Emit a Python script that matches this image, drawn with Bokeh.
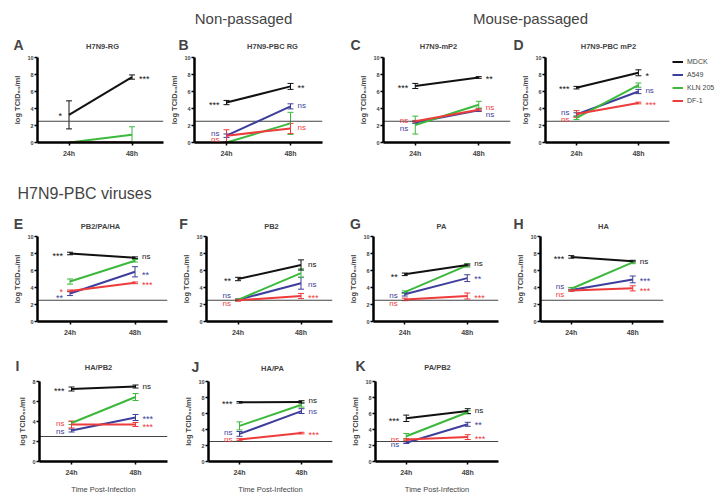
from bokeh.plotting import figure
from bokeh.models import (Range1d, FixedTicker, Label, Whisker, ColumnDataSource,
                          Legend, LegendItem, TeeHead)
from bokeh.layouts import column, row
from bokeh.embed import file_html
from bokeh.resources import INLINE

FONT = "Liberation Sans"

# ---------------- data ----------------
panel_ids = ["A", "B", "C", "D", "E", "F", "G", "H", "I", "J", "K"]
panel_titles = ["H7N9-RG", "H7N9-PBC RG", "H7N9-mP2", "H7N9-PBC mP2",
                "PB2/PA/HA", "PB2", "PA", "HA", "HA/PB2", "HA/PA", "PA/PB2"]
y_max = [10, 10, 10, 10, 10, 10, 10, 10, 8, 10, 10]
time_labels = ["24h", "48h"]
cells = ["MDCK", "A549", "KLN 205", "DF-1"]
detection_limit = 2.5
group_titles = ["Non-passaged", "Mouse-passaged", "H7N9-PBC viruses"]

mdck_24h = [3.25, 4.7, 6.65, 6.45, 8.0, 5.0, 5.55, 7.6, 7.25, 7.4, 5.4]
mdck_48h = [7.7, 6.6, 7.65, 8.2, 7.5, 6.65, 6.65, 7.1, 7.5, 7.45, 6.3]
mdck_err_24h = [1.65, 0.25, 0.3, 0.15, 0.15, 0.2, 0.15, 0.15, 0.2, 0.1, 0.4]
mdck_err_48h = [0.25, 0.35, 0.1, 0.35, 0.1, 0.6, 0.1, 0.1, 0.15, 0.15, 0.3]

a549_24h = [0.0, 0.8, 2.35, 3.3, 3.3, 2.55, 3.2, 3.7, 3.1, 3.45, 2.35]
a549_48h = [0.0, 4.25, 3.8, 6.0, 5.85, 4.5, 5.1, 4.95, 4.4, 6.3, 4.65]
a549_err_24h = [0.0, 0.2, 0.1, 0.2, 0.25, 0.1, 0.2, 0.1, 0.15, 0.3, 0.1]
a549_err_48h = [0.0, 0.3, 0.15, 0.25, 0.6, 0.7, 0.4, 0.4, 0.3, 0.3, 0.25]

kln_24h = [0.0, 0.0, 2.05, 2.9, 4.7, 2.55, 3.45, 3.85, 3.85, 4.45, 3.15]
kln_48h = [0.9, 2.25, 4.45, 6.75, 7.15, 5.7, 6.6, 6.95, 6.45, 7.1, 6.15]
kln_err_24h = [0.0, 0.0, 1.05, 0.2, 0.3, 0.1, 0.15, 0.15, 0.15, 0.5, 0.35]
kln_err_48h = [0.95, 1.3, 0.4, 0.25, 0.15, 0.5, 0.2, 0.15, 0.35, 0.3, 0.2]

df1_24h = [0.0, 0.8, 2.5, 3.35, 3.6, 2.5, 2.6, 3.65, 3.7, 2.75, 2.75]
df1_48h = [0.0, 1.65, 3.85, 4.65, 4.55, 3.0, 3.0, 3.9, 3.7, 3.55, 3.05]
df1_err_24h = [0.0, 0.7, 0.1, 0.4, 0.1, 0.1, 0.15, 0.1, 0.35, 0.1, 0.1]
df1_err_48h = [0.0, 0.6, 0.1, 0.1, 0.1, 0.3, 0.35, 0.3, 0.2, 0.1, 0.3]

# significance marks: (cell, time, text, y)
sig_A = [("MDCK", "24h", "*", 3.3), ("MDCK", "48h", "***", 7.7)]
sig_B = [("MDCK", "24h", "***", 4.7), ("MDCK", "48h", "**", 6.6),
         ("A549", "24h", "ns", 1.1), ("DF-1", "24h", "ns", 0.3),
         ("A549", "48h", "ns", 4.3), ("DF-1", "48h", "ns", 1.8)]
sig_C = [("MDCK", "24h", "***", 6.6), ("MDCK", "48h", "**", 7.7),
         ("DF-1", "24h", "ns", 2.55), ("A549", "24h", "ns", 1.65),
         ("DF-1", "48h", "ns", 4.1), ("A549", "48h", "ns", 3.25)]
sig_D = [("MDCK", "24h", "***", 6.5), ("MDCK", "48h", "*", 8.1),
         ("A549", "24h", "ns", 3.55), ("DF-1", "24h", "ns", 2.75),
         ("A549", "48h", "ns", 6.1), ("DF-1", "48h", "***", 4.6)]
sig_E = [("MDCK", "24h", "***", 8.0), ("MDCK", "48h", "ns", 7.7),
         ("DF-1", "24h", "*", 3.7), ("A549", "24h", "**", 3.0),
         ("A549", "48h", "**", 5.75), ("DF-1", "48h", "***", 4.5)]
sig_F = [("MDCK", "24h", "**", 4.95), ("MDCK", "48h", "ns", 6.7),
         ("A549", "24h", "ns", 3.1), ("DF-1", "24h", "ns", 2.15),
         ("A549", "48h", "ns", 4.4), ("DF-1", "48h", "***", 3.0)]
sig_G = [("MDCK", "24h", "**", 5.5), ("MDCK", "48h", "ns", 6.85),
         ("A549", "24h", "ns", 3.1), ("DF-1", "24h", "ns", 2.15),
         ("A549", "48h", "**", 5.2), ("DF-1", "48h", "***", 3.0)]
sig_H = [("MDCK", "24h", "***", 7.6), ("MDCK", "48h", "ns", 7.1),
         ("A549", "24h", "ns", 4.1), ("DF-1", "24h", "ns", 3.2),
         ("A549", "48h", "***", 5.05), ("DF-1", "48h", "***", 3.8)]
sig_I = [("MDCK", "24h", "***", 7.3), ("MDCK", "48h", "ns", 7.5),
         ("DF-1", "24h", "ns", 3.85), ("A549", "24h", "ns", 3.05),
         ("A549", "48h", "***", 4.5), ("DF-1", "48h", "***", 3.65)]
sig_J = [("MDCK", "24h", "***", 7.4), ("MDCK", "48h", "ns", 7.6),
         ("A549", "24h", "ns", 3.6), ("DF-1", "24h", "ns", 2.75),
         ("A549", "48h", "ns", 6.3), ("DF-1", "48h", "***", 3.55)]
sig_K = [("MDCK", "24h", "***", 5.3), ("MDCK", "48h", "ns", 6.4),
         ("DF-1", "24h", "ns", 2.8), ("A549", "24h", "ns", 2.1),
         ("A549", "48h", "**", 4.8), ("DF-1", "48h", "***", 3.05)]
sig_marks = [sig_A, sig_B, sig_C, sig_D, sig_E, sig_F, sig_G, sig_H, sig_I, sig_J, sig_K]

series = {
    "MDCK": (mdck_24h, mdck_48h, mdck_err_24h, mdck_err_48h),
    "A549": (a549_24h, a549_48h, a549_err_24h, a549_err_48h),
    "KLN 205": (kln_24h, kln_48h, kln_err_24h, kln_err_48h),
    "DF-1": (df1_24h, df1_48h, df1_err_24h, df1_err_48h),
}

# ---------------- styling / layout ----------------
COLORS = {"MDCK": "#111111", "A549": "#3e3e9c", "KLN 205": "#3cb83c", "DF-1": "#ee3b3b"}
DRAW_ORDER = ["A549", "KLN 205", "DF-1", "MDCK"]
PAGE_W = 721
X_LO, X_HI = 0.5, 2.5

# header strips: (top, height); panel rows: (top, fig height, top border, frame height)
STRIPS = [(0, 52), (183, 48), (343, 33)]
ROWS = [(52, 131, 5, 85), (231, 112, 5, 85), (376, 120, 5, 84)]
# panel: (row, figure width, left border, axis width, extra frame width for legend)
GEOM = {
    "A": (0, 167, 37, 126, 0), "B": (0, 183, 24, 131, 0), "C": (0, 168, 33, 127, 0),
    "D": (0, 203, 24, 126, 53),
    "E": (1, 179, 37, 130, 0), "F": (1, 167, 24, 129, 0), "G": (1, 167, 22, 130, 0),
    "H": (1, 200, 22, 128, 0),
    "I": (2, 181, 39, 128, 0), "J": (2, 167, 24, 127, 0), "K": (2, 182, 24, 126, 0),
}
# page-pixel positions of letters, titles and group titles
LETTER_POS = {"A": (18, 44), "B": (183, 44), "C": (355, 44), "D": (518, 44),
              "E": (18, 223), "F": (183, 223), "G": (355, 223), "H": (518, 223),
              "I": (17, 365), "J": (195, 366), "K": (360, 365)}
TITLE_POS = {"A": (102, 46), "B": (272, 46), "C": (438, 46), "D": (608, 46),
             "E": (100, 226), "F": (271, 226), "G": (441, 226), "H": (603, 226),
             "I": (98, 367), "J": (272, 368), "K": (437, 367)}
GROUP_POS = [(243, 18, "center", 0, "15px"), (530, 18, "center", 0, "15px"),
             (17, 193, "left", 1, "16px")]
LEGEND_AT = (127, 35)   # screen offset from D's plot-area bottom-left


def make_strip(k):
    top, h = STRIPS[k]
    s = figure(width=PAGE_W, height=h, x_range=Range1d(0, PAGE_W), y_range=Range1d(0, h),
               output_backend="svg", toolbar_location=None,
               min_border_left=0, min_border_right=0, min_border_top=0, min_border_bottom=0)
    s.axis.visible = False
    s.grid.visible = False
    s.outline_line_color = None
    for (gx, gy, al, sk, fs), txt in zip(GROUP_POS, group_titles):
        if sk == k:
            s.add_layout(Label(x=gx, y=h - (gy - top), text=txt, text_align=al,
                               text_baseline="middle", text_font=FONT, text_font_size=fs))
    for i, pid in enumerate(panel_ids):
        if GEOM[pid][0] != k:
            continue
        lx, ly = LETTER_POS[pid]
        s.add_layout(Label(x=lx, y=h - (ly - top), text=pid, text_align="center",
                           text_baseline="middle", text_font=FONT, text_font_style="bold",
                           text_font_size="14px"))
        tx, ty = TITLE_POS[pid]
        s.add_layout(Label(x=tx, y=h - (ty - top), text=panel_titles[i], text_align="center",
                           text_baseline="middle", text_font=FONT, text_font_style="bold",
                           text_font_size="7.5px"))
    return s


def make_panel(i):
    pid = panel_ids[i]
    r, fw, bl, aw, extra = GEOM[pid]
    _, fh, bt, frh = ROWS[r]
    frw = aw + extra
    x_end = X_HI + extra * (X_HI - X_LO) / aw
    p = figure(width=fw, height=fh, x_range=Range1d(X_LO, x_end), y_range=Range1d(0, y_max[i]),
               output_backend="svg", toolbar_location=None,
               min_border_left=bl, min_border_right=fw - bl - frw,
               min_border_top=bt, min_border_bottom=fh - bt - frh)
    p.outline_line_color = None
    p.grid.visible = False

    p.xaxis.ticker = FixedTicker(ticks=[1, 2])
    p.xaxis.major_label_overrides = {1: time_labels[0], 2: time_labels[1]}
    p.xaxis.bounds = (X_LO, X_HI)
    p.yaxis.ticker = FixedTicker(ticks=list(range(0, y_max[i] + 1, 2)))
    for ax in (p.xaxis[0], p.yaxis[0]):
        ax.axis_line_width = 2.5
        ax.axis_line_color = "black"
        ax.major_tick_line_width = 1.5
        ax.major_tick_out = 3
        ax.major_tick_in = 0
        ax.minor_tick_line_color = None
        ax.major_label_text_font = FONT
        ax.major_label_text_font_style = "bold"
        ax.axis_label_text_font = FONT
        ax.axis_label_text_font_style = "normal"
    p.yaxis.major_label_text_font_size = "5.5px"
    p.yaxis.major_label_standoff = 1
    p.xaxis.major_label_text_font_size = "7px"
    p.xaxis.major_label_standoff = 4
    p.yaxis.axis_label = "log TCID\u2085\u2080/ml"
    p.yaxis.axis_label_text_font_size = "7.5px"
    p.yaxis.axis_label_text_font_style = "bold"
    p.yaxis.axis_label_standoff = 2
    if r == 2:
        p.xaxis.axis_label = "Time Post-Infection"
        p.xaxis.axis_label_text_font_size = "7.5px"
        p.xaxis.axis_label_standoff = 6

    # limit of detection
    p.segment(x0=[X_LO], y0=[detection_limit], x1=[X_HI], y1=[detection_limit],
              line_color="#444444", line_width=1)

    renderers = {}
    for cell in DRAW_ORDER:
        v24, v48, e24, e48 = series[cell]
        c = COLORS[cell]
        ys = [v24[i], v48[i]]
        es = [e24[i], e48[i]]
        renderers[cell] = p.line([1, 2], ys, line_color=c, line_width=2)
        xs = [x for x, e in zip([1, 2], es) if e > 0]
        if xs:
            src = ColumnDataSource(dict(
                x=xs,
                upper=[y + e for y, e in zip(ys, es) if e > 0],
                lower=[max(y - e, 0) for y, e in zip(ys, es) if e > 0]))
            p.add_layout(Whisker(base="x", upper="upper", lower="lower", source=src,
                                 dimension="height", line_color=c, line_width=1,
                                 upper_head=TeeHead(size=6, line_color=c, line_width=1),
                                 lower_head=TeeHead(size=6, line_color=c, line_width=1)))

    for cell, t, txt, yv in sig_marks[i]:
        left = (t == time_labels[0])
        star = txt.startswith("*")
        p.add_layout(Label(x=1 if left else 2, y=yv, x_offset=-7 if left else 7,
                           y_offset=-2 if star else 0, text=txt,
                           text_align="right" if left else "left", text_baseline="middle",
                           text_font=FONT, text_font_size="9px" if star else "8px",
                           text_color=COLORS[cell]))

    if extra:
        items = [LegendItem(label=c, renderers=[renderers[c]]) for c in cells]
        leg = Legend(items=items, location=LEGEND_AT, orientation="vertical",
                     border_line_color=None, background_fill_alpha=0, padding=0, spacing=0,
                     margin=0, glyph_width=11, glyph_height=13, label_height=13,
                     label_standoff=4, label_text_font=FONT, label_text_font_size="7px")
        p.add_layout(leg)
    return p


rows_children = [[], [], []]
for i, pid in enumerate(panel_ids):
    rows_children[GEOM[pid][0]].append(make_panel(i))

layout = column(make_strip(0), row(*rows_children[0]),
                make_strip(1), row(*rows_children[1]),
                make_strip(2), row(*rows_children[2]))

with open("out.html", "w") as f:
    f.write(file_html(layout, INLINE))
